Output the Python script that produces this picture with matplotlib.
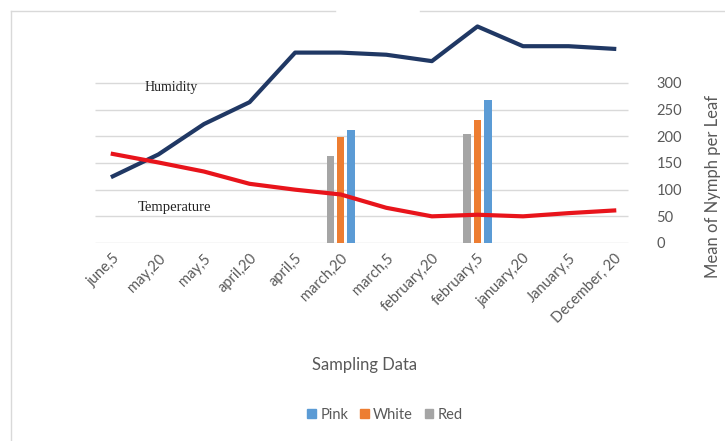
import matplotlib
matplotlib.use('Agg')
import matplotlib.pyplot as plt
import numpy as np
from matplotlib.lines import Line2D
from matplotlib.patches import Patch

plt.rcParams['font.family'] = ['Lato', 'DejaVu Sans']

# data
dates = ['june,5', 'may,20', 'may,5', 'april,20', 'april,5', 'march,20',
         'march,5', 'february,20', 'february,5', 'january,20', 'January,5',
         'December, 20']
humidity = [125, 166, 223, 264, 357, 357, 353, 341, 406, 369, 369, 364]
temperature = [167, 151, 134, 111, 100, 91, 66, 50, 53, 50, 56, 61]
nan = np.nan
red = [nan, nan, nan, nan, nan, 163, nan, nan, 204, nan, nan, nan]
white = [nan, nan, nan, nan, nan, 198, nan, nan, 231, nan, nan, nan]
pink = [nan, nan, nan, nan, nan, 212, nan, nan, 268, nan, nan, nan]
yticks = [0, 50, 100, 150, 200, 250, 300]

grey_txt = '#595959'
c_pink = '#5B9BD5'
c_white = '#ED7D31'
c_red = '#A5A5A5'

fig = plt.figure(figsize=(7.25, 4.41), dpi=100)

# outer frame (with the little gap at the top like the original)
fig.add_artist(Line2D([11/725, 11/725], [0, 1-11/441], color='#D9D9D9', lw=1))
fig.add_artist(Line2D([11/725, 335/725], [1-11/441, 1-11/441], color='#D9D9D9', lw=1))
fig.add_artist(Line2D([420/725, 1], [1-11/441, 1-11/441], color='#D9D9D9', lw=1))

ax = fig.add_axes([90/725, (441-243)/441, 547/725, 225/441])
x = np.arange(len(dates))

# gridlines stop short of the axes edges
ax.hlines(yticks, -0.39, 11.3, color='#D9D9D9', lw=1, zorder=0)

w = 0.165
off = 0.227
ax.bar(x - off, red, w, color=c_red, zorder=2)
ax.bar(x, white, w, color=c_white, zorder=2)
ax.bar(x + off, pink, w, color=c_pink, zorder=2)

ax.plot(x, humidity, color='#203864', lw=3, solid_joinstyle='round', zorder=3)
ax.plot(x, temperature, color='#E8141B', lw=3, solid_joinstyle='round', zorder=3)

ax.set_xlim(-0.5, len(dates) - 0.5)
ax.set_ylim(0, 300 * 225 / 160)
ax.set_yticks(yticks)
ax.yaxis.tick_right()
ax.yaxis.set_label_position('right')
ax.tick_params(axis='y', length=0, pad=14, labelsize=10.5, labelcolor=grey_txt)
ax.set_xticks(x)
ax.set_xticklabels(dates, rotation=45, ha='right', rotation_mode='anchor',
                   fontsize=10.5, color=grey_txt)
ax.tick_params(axis='x', length=0, pad=6)
for s in ax.spines.values():
    s.set_visible(False)
ax.set_facecolor('none')

ax.set_ylabel('Mean of Nymph per Leaf', fontsize=12, color=grey_txt)
ax.yaxis.set_label_coords(1.124, 0.25)

ax.text(0.7, 292, 'Humidity', family='Liberation Serif', fontsize=10,
        color='#222222', ha='left', va='center')
ax.text(0.55, 67, 'Temperature', family='Liberation Serif', fontsize=10.5,
        color='#222222', ha='left', va='center')

fig.text(365/725, 1 - 365/441, 'Sampling Data', fontsize=12, color=grey_txt,
         ha='center', va='center')

handles = [Patch(color=c_pink, label='Pink'), Patch(color=c_white, label='White'),
           Patch(color=c_red, label='Red')]
fig.legend(handles=handles, loc='center', bbox_to_anchor=(385/725, 1 - 415/441),
           ncol=3, frameon=False, fontsize=10.5, handlelength=0.6, handleheight=0.6,
           handletextpad=0.3, columnspacing=0.8, labelcolor=grey_txt)

fig.savefig('out.png', dpi=100)
